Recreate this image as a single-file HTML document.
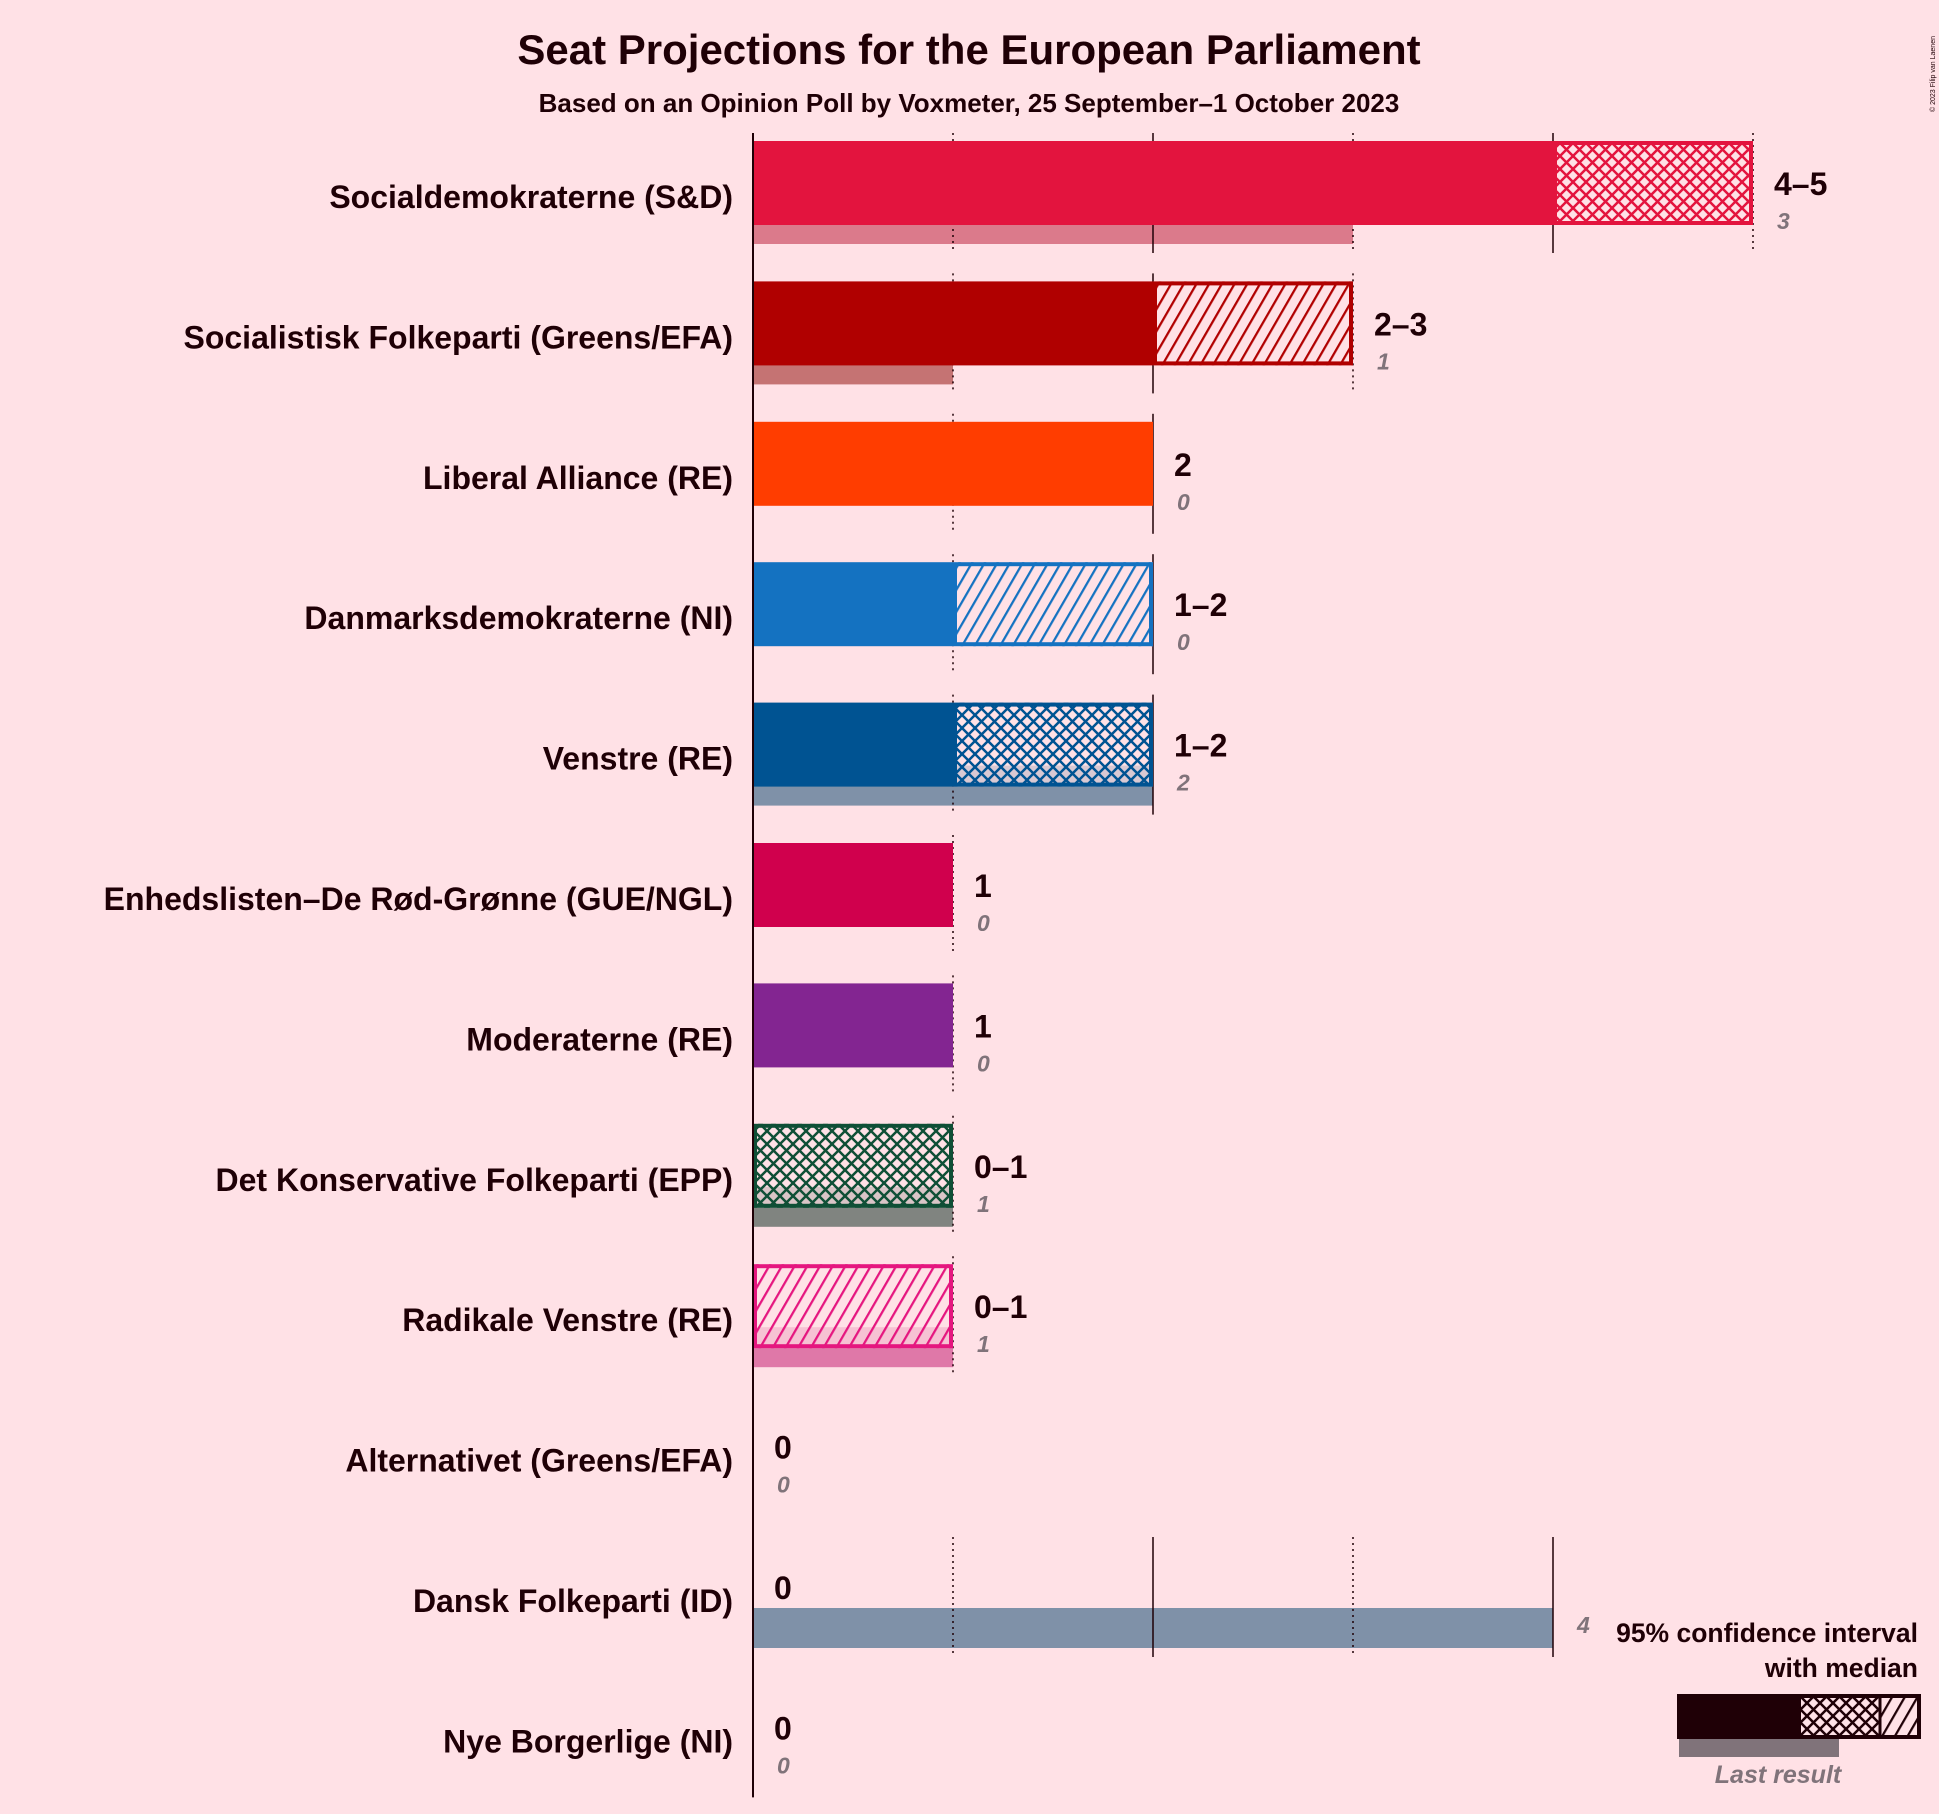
<!DOCTYPE html>
<html><head><meta charset="utf-8">
<style>
html,body{margin:0;padding:0;background:#FFE1E6;}
svg{display:block;font-family:"Liberation Sans",sans-serif;}
</style></head>
<body>
<svg id="chart" width="1939" height="1814" viewBox="0 0 1939 1814" xmlns="http://www.w3.org/2000/svg">
<rect width="1939" height="1814" fill="#FFE1E6"/>
<defs id="defs"></defs>
<text x="969" y="64" text-anchor="middle" font-size="42" font-weight="bold" fill="#1F0006">Seat Projections for the European Parliament</text>
<text x="969" y="112" text-anchor="middle" font-size="26" font-weight="bold" fill="#1F0006">Based on an Opinion Poll by Voxmeter, 25 September–1 October 2023</text>
<text transform="translate(1935,112) rotate(-90)" font-size="7" fill="#1F0006">© 2023 Filip van Laenen</text>
<g id="plot"></g>
<g>
<text x="1918" y="1642" text-anchor="end" font-size="26.5" font-weight="bold" fill="#1F0006">95% confidence interval</text>
<text x="1918" y="1677" text-anchor="end" font-size="26.5" font-weight="bold" fill="#1F0006">with median</text>
<rect x="1679" y="1737" width="160" height="20" fill="#80737A"/>
<rect x="1677" y="1694" width="122" height="45" fill="#1F0006"/>
<rect x="1799" y="1694" width="81" height="45" fill="url(#cross-legend)"/>
<rect x="1880" y="1694" width="41" height="45" fill="url(#diag-legend)"/>
<rect x="1799" y="1696" width="120" height="41" fill="none" stroke="#1F0006" stroke-width="4"/>
<line x1="1880" y1="1694" x2="1880" y2="1739" stroke="#1F0006" stroke-width="3"/>
<text x="1778" y="1783" text-anchor="middle" font-size="25" font-style="italic" font-weight="bold" fill="#80737A">Last result</text>
</g>
</svg>
<script>
const parties = ["Socialdemokraterne (S&D)","Socialistisk Folkeparti (Greens/EFA)","Liberal Alliance (RE)","Danmarksdemokraterne (NI)","Venstre (RE)","Enhedslisten–De Rød-Grønne (GUE/NGL)","Moderaterne (RE)","Det Konservative Folkeparti (EPP)","Radikale Venstre (RE)","Alternativet (Greens/EFA)","Dansk Folkeparti (ID)","Nye Borgerlige (NI)"];
const ciLow = [4,2,2,1,1,1,1,0,0,0,0,0];
const median = [5,2,2,1,2,1,1,1,0,0,0,0];
const ciHigh = [5,3,2,2,2,1,1,1,1,0,0,0];
const lastResult = [3,1,0,0,2,0,0,1,1,0,4,0];
const colors = ["#E3143E","#B00000","#FF3D00","#1472C1","#005392","#D0004D","#832591","#0F4F36","#E5167F","#2B8738","#005078","#124D5A"];
const lastColors = ["#DB7A8B","#C57373","#E89070","#7FA3C8","#7F91A8","#D67A98","#A87AAF","#808480","#DF78A8","#88A88A","#7F91A8","#80969C"];

const NS="http://www.w3.org/2000/svg";
const X0=753, SEAT=200, TOP0=141, PITCH=140.4, BH=84;
const xs=v=>X0+v*SEAT;
const plot=document.getElementById('plot'), defs=document.getElementById('defs');
function mk(tag,attrs,parent){const e=document.createElementNS(NS,tag);for(const k in attrs)e.setAttribute(k,attrs[k]);(parent||plot).appendChild(e);return e;}
function patterns(id,col){
  const c=mk('pattern',{id:'cross-'+id,patternUnits:'userSpaceOnUse',width:13,height:13},defs);
  mk('path',{d:'M0,0L13,13M13,0L0,13',stroke:col,'stroke-width':2.5},c);
  const d=mk('pattern',{id:'diag-'+id,patternUnits:'userSpaceOnUse',width:11,height:11,patternTransform:'rotate(30)'},defs);
  mk('line',{x1:0,y1:0,x2:0,y2:11,stroke:col,'stroke-width':4.5},d);
}
patterns('legend','#1F0006');
parties.forEach((p,i)=>{
  patterns(i,colors[i]);
  const top=TOP0+i*PITCH;
  const g=mk('g',{});
  
  
  if(lastResult[i]>0){
    const lb=mk('rect',{x:X0,y:top+63,width:lastResult[i]*SEAT,height:40,fill:lastColors[i]},g);
    
    
  }
  const mx=Math.max(ciHigh[i],lastResult[i]);
  for(let t=1;t<=mx;t++){
    const gl=mk('line',{x1:xs(t),x2:xs(t),y1:top-8,y2:top+112,stroke:'#1F0006','stroke-width':1.5,'stroke-dasharray':t%2?'2,4':'none'},g);
    
    
  }
  if(ciLow[i]>0){
    const sb=mk('rect',{x:X0,y:top,width:ciLow[i]*SEAT,height:BH,fill:colors[i]},g);
    
    
  }
  if(median[i]>ciLow[i]){
    mk('rect',{x:xs(ciLow[i]),y:top,width:(median[i]-ciLow[i])*SEAT,height:BH,fill:'#FFE1E6','fill-opacity':0.7},g);
    const cb=mk('rect',{x:xs(ciLow[i]),y:top,width:(median[i]-ciLow[i])*SEAT,height:BH,fill:'url(#cross-'+i+')'},g);
    
    
  }
  if(ciHigh[i]>median[i]){
    mk('rect',{x:xs(median[i]),y:top,width:(ciHigh[i]-median[i])*SEAT,height:BH,fill:'#FFE1E6','fill-opacity':0.7},g);
    const db=mk('rect',{x:xs(median[i]),y:top,width:(ciHigh[i]-median[i])*SEAT,height:BH,fill:'url(#diag-'+i+')'},g);
    
    
  }
  if(ciHigh[i]>ciLow[i]){
    mk('rect',{x:xs(ciLow[i])+2,y:top+2,width:(ciHigh[i]-ciLow[i])*SEAT-4,height:BH-4,fill:'none',stroke:colors[i],'stroke-width':4},g);
  }
  const lab=mk('text',{x:733,y:top+67,'text-anchor':'end','font-size':32,'font-weight':'bold',fill:'#1F0006'},g);
  lab.textContent=p;
  
  
  const vl=mk('text',{x:xs(ciHigh[i])+21,y:top+54,'font-size':32,'font-weight':'bold',fill:'#1F0006'},g);
  vl.textContent=ciLow[i]===ciHigh[i]?String(ciLow[i]):ciLow[i]+'–'+ciHigh[i];
  
  
  const ll=mk('text',{x:xs(mx)+24,y:top+88,'font-size':23,'font-weight':'bold','font-style':'italic',fill:'#80737A'},g);
  ll.textContent=String(lastResult[i]);
  
  
});
const ax=mk('line',{x1:X0,x2:X0,y1:TOP0-8,y2:TOP0+11*PITCH+112,stroke:'#1F0006','stroke-width':2});


</script>
</body></html>
